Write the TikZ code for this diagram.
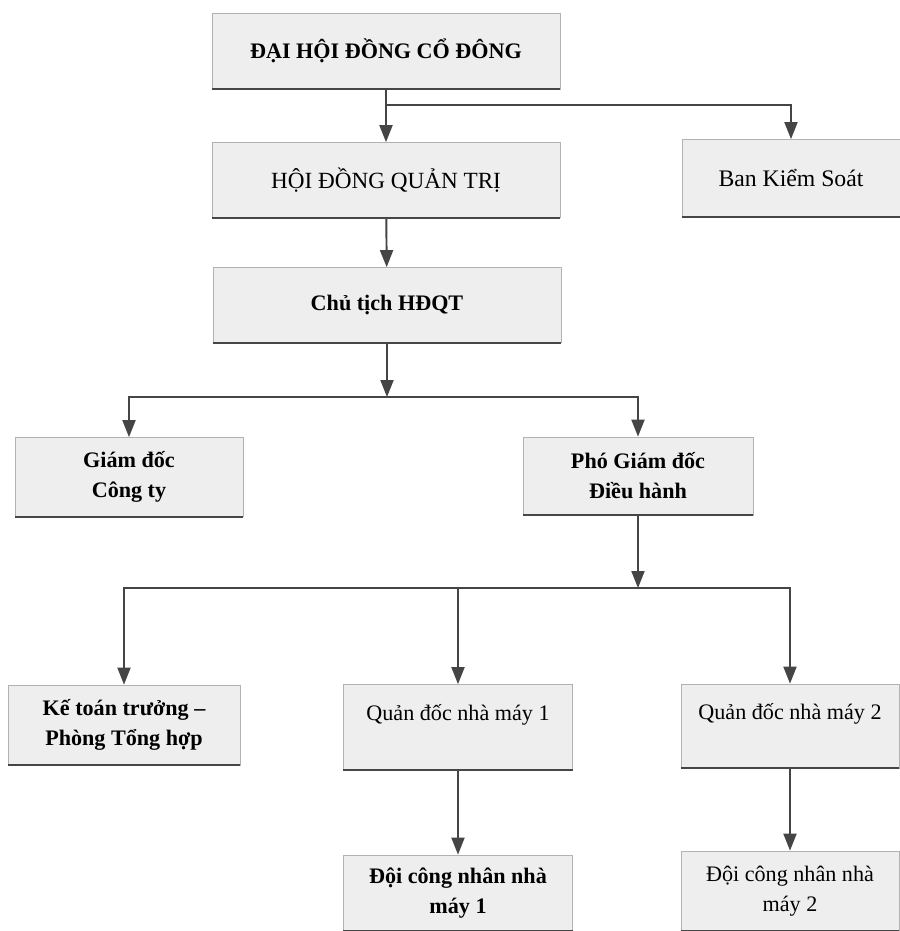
\documentclass[tikz,border=0pt]{standalone}
\usepackage{fontspec}
\setmainfont{Liberation Serif}
\usepackage{xcolor}
\usepackage{tikz}
\usetikzlibrary{arrows.meta,positioning,calc}
\definecolor{lineg}{HTML}{454545}
\tikzset{
  box/.style={draw=gray!60,fill=gray!13,align=center,font=\fontsize{12.6}{17}\selectfont\bfseries,inner sep=3pt},
  lbox/.style={box,font=\fontsize{12.6}{17}\selectfont},
  arr/.style={-{Triangle[length=3.4mm,width=2.6mm]},line width=1.1pt,draw=lineg},
  shade/.style={line width=1.3pt,draw=gray!55!black},
}

\begin{document}
\begin{tikzpicture}[x=0.02cm,y=-0.02cm]
\useasboundingbox (0,0) rectangle (900,931);
% boxes
\node[box,minimum width=6.96cm,minimum height=1.52cm] (dhd) at (386,51) {ĐẠI HỘI ĐỒNG CỔ ĐÔNG};
\node[lbox,minimum width=6.96cm,minimum height=1.5cm,font=\fontsize{13.2}{17}\selectfont] (hdqt) at (386,180) {HỘI ĐỒNG QUẢN TRỊ};
\node[lbox,minimum width=4.36cm,minimum height=1.54cm,font=\fontsize{13.5}{17}\selectfont] (bks) at (791,178) {Ban Kiểm Soát};
\node[box,minimum width=6.96cm,minimum height=1.5cm] (ct) at (387,305) {Chủ tịch HĐQT};
\node[box,minimum width=4.56cm,minimum height=1.58cm] (gd) at (129,477) {Giám đốc\\Công ty};
\node[box,minimum width=4.6cm,minimum height=1.56cm] (pgd) at (638,476) {Phó Giám đốc\\Điều hành};
\node[box,minimum width=4.64cm,minimum height=1.6cm] (kt) at (124,725) {Kế toán trưởng –\\Phòng Tổng hợp};
\node[lbox,minimum width=4.58cm,minimum height=1.7cm] (qd1) at (458,727) {Quản đốc nhà máy 1\\\mbox{}};
\node[lbox,minimum width=4.36cm,minimum height=1.68cm] (qd2) at (790,726) {Quản đốc nhà máy 2\\\mbox{}};
\node[box,minimum width=4.58cm,minimum height=1.52cm] (doi1) at (458,893) {Đội công nhân nhà\\máy 1};
\node[lbox,minimum width=4.36cm,minimum height=1.6cm] (doi2) at (790,891) {Đội công nhân nhà\\máy 2};
\foreach \n in {dhd,hdqt,bks,ct,gd,pgd,kt,qd1,qd2,doi1,doi2}
  \draw[shade] (\n.south west) -- (\n.south east);
% junctions
\coordinate (j1) at (386,105);
\coordinate (j2) at (387,397);
\coordinate (j3) at (638,588);
% connectors
\draw[arr] (dhd) -- (hdqt);
\draw[arr] (j1) -| (bks);
\draw[arr] (hdqt) -- (ct);
\draw[arr] (ct) -- (j2);
\draw[arr] (j2) -| (gd);
\draw[arr] (j2) -| (pgd);
\draw[arr] (pgd) -- (j3);
\draw[arr] (j3) -| (kt);
\draw[arr] (j3 -| qd1) -- (qd1);
\draw[arr] (j3) -| (qd2);
\draw[arr] (qd1) -- (doi1);
\draw[arr] (qd2) -- (doi2);
\end{tikzpicture}
\end{document}
